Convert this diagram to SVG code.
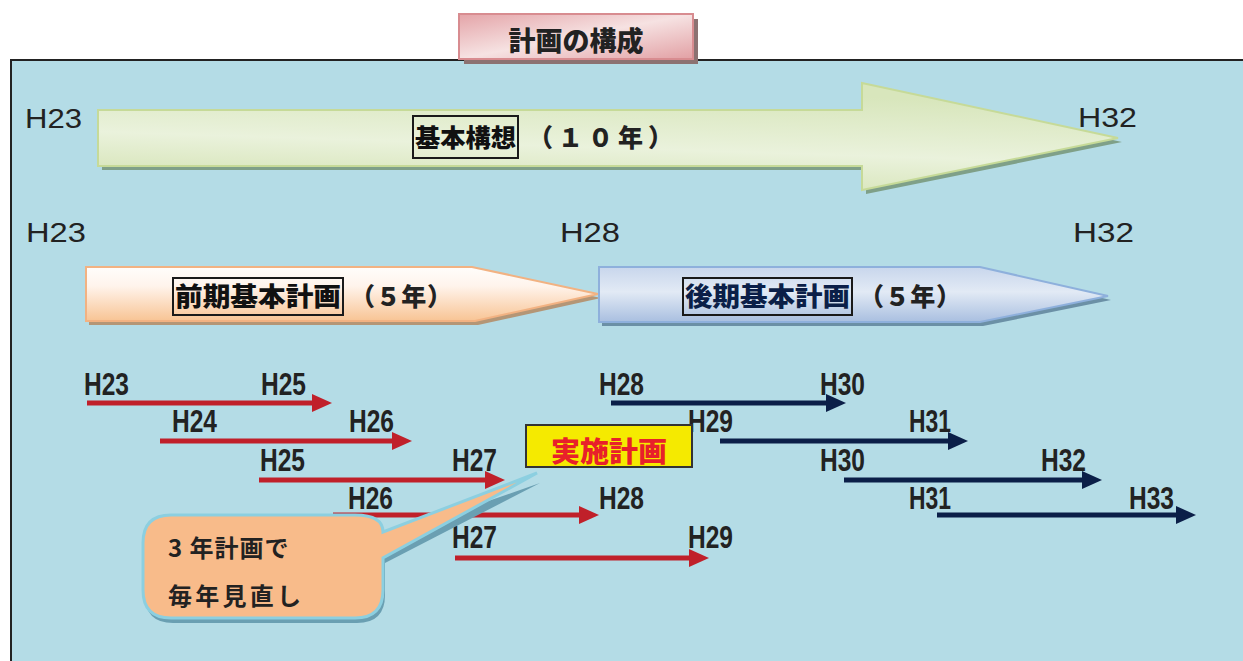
<svg xmlns="http://www.w3.org/2000/svg" width="1243" height="661" viewBox="0 0 1243 661">
<defs>
<style>
.cjk{font-family:"Noto Sans CJK JP","Noto Sans CJK SC",sans-serif;font-weight:900;}
.lbl{font-family:"Liberation Sans","DejaVu Sans",sans-serif;font-size:31px;font-weight:bold;fill:#222;}
.yr{font-family:"Liberation Sans",Arial,sans-serif;font-size:27px;fill:#222;}
.red{stroke:#c0202a;stroke-width:5;fill:none;}
.navy{stroke:#0b1f48;stroke-width:5;fill:none;}
.tbox{fill:none;stroke:#1a1a1a;stroke-width:2;}
</style>
<linearGradient id="gTitle" x1="0" y1="0" x2="1" y2="1">
<stop offset="0" stop-color="#e4a4a8"/><stop offset="0.5" stop-color="#f6e2e2"/><stop offset="1" stop-color="#e2a0a4"/>
</linearGradient>
<linearGradient id="gGreen" x1="0" y1="1" x2="0.3" y2="0">
<stop offset="0" stop-color="#d0e0ac"/><stop offset="0.5" stop-color="#eaf2dc"/><stop offset="1" stop-color="#d8e6bc"/>
</linearGradient>
<linearGradient id="gOrange" x1="0" y1="0" x2="0" y2="1">
<stop offset="0" stop-color="#fffdfb"/><stop offset="0.35" stop-color="#fff4ec"/><stop offset="1" stop-color="#f8c494"/>
</linearGradient>
<linearGradient id="gBlue" x1="0" y1="0" x2="0" y2="1">
<stop offset="0" stop-color="#c8d6ec"/><stop offset="0.45" stop-color="#e2eaf5"/><stop offset="1" stop-color="#a9bfe0"/>
</linearGradient>
<marker id="mRed" viewBox="0 0 20 18" refX="6" refY="9" markerWidth="20" markerHeight="18" markerUnits="userSpaceOnUse" orient="auto">
<path d="M0,0 L20,9 L0,18 Z" fill="#c0202a"/>
</marker>
<marker id="mNavy" viewBox="0 0 20 18" refX="6" refY="9" markerWidth="20" markerHeight="18" markerUnits="userSpaceOnUse" orient="auto">
<path d="M0,0 L20,9 L0,18 Z" fill="#0b1f48"/>
</marker>
</defs>

<rect x="0" y="0" width="1243" height="661" fill="#ffffff"/>
<rect x="10" y="59" width="1240" height="610" fill="#b4dce6"/>
<path d="M11,661 V60 H1243" fill="none" stroke="#222" stroke-width="2"/>

<g id="title">
<rect x="464" y="19" width="234" height="45" fill="#8c7272"/>
<rect x="459" y="14" width="234" height="45" fill="url(#gTitle)" stroke="#d88c90" stroke-width="2"/>
<text x="576" y="51" class="cjk" font-size="27" fill="#222" text-anchor="middle">計画の構成</text>
</g>

<g id="year-labels">
<text x="25" y="128" class="yr" textLength="57" lengthAdjust="spacingAndGlyphs">H23</text>
<text x="1078" y="127" class="yr" textLength="59" lengthAdjust="spacingAndGlyphs">H32</text>
<text x="26" y="242" class="yr" textLength="60" lengthAdjust="spacingAndGlyphs">H23</text>
<text x="560" y="242" class="yr" textLength="60" lengthAdjust="spacingAndGlyphs">H28</text>
<text x="1073" y="242" class="yr" textLength="61" lengthAdjust="spacingAndGlyphs">H32</text>
</g>

<g id="kihon-kousou">
<path d="M98,110 H862 V83 L1118,138 L862,190 V166 H98 Z" fill="#7fa088" transform="translate(4,4)"/>
<path d="M98,110 H862 V83 L1118,138 L862,190 V166 H98 Z" fill="url(#gGreen)" stroke="#c6da98" stroke-width="2"/>
<rect x="413" y="116" width="105" height="42" class="tbox"/>
<text x="415" y="147" class="cjk" font-size="25" fill="#111" textLength="101" lengthAdjust="spacingAndGlyphs">基本構想</text>
<text x="528" y="147" class="cjk" font-size="25" fill="#222" textLength="145">（１０年）</text>
</g>

<g id="zenki">
<path d="M86,267 H472 L598,294 L475,321 H86 Z" fill="#b49676" transform="translate(3,4)"/>
<path d="M86,267 H472 L598,294 L475,321 H86 Z" fill="url(#gOrange)" stroke="#f2b282" stroke-width="2"/>
<rect x="173" y="278" width="170" height="37" class="tbox"/>
<text x="175" y="306" class="cjk" font-size="26" fill="#111" textLength="166" lengthAdjust="spacingAndGlyphs">前期基本計画</text>
<text x="350" y="306" class="cjk" font-size="25" fill="#222" textLength="102">（５年）</text>
</g>

<g id="kouki">
<path d="M599,267 H980 L1108,296 L980,322 H599 Z" fill="#6b90a6" transform="translate(3,4)"/>
<path d="M599,267 H980 L1108,296 L980,322 H599 Z" fill="url(#gBlue)" stroke="#8eb0dc" stroke-width="2"/>
<rect x="683" y="278" width="169" height="37" class="tbox"/>
<text x="685" y="306" class="cjk" font-size="26" fill="#0b1f48" textLength="165" lengthAdjust="spacingAndGlyphs">後期基本計画</text>
<text x="859" y="306" class="cjk" font-size="25" fill="#222" textLength="102">（５年）</text>
</g>

<g id="connectors">
<line x1="87" y1="403" x2="318" y2="403" class="red" marker-end="url(#mRed)"/>
<line x1="160" y1="441" x2="398" y2="441" class="red" marker-end="url(#mRed)"/>
<line x1="259" y1="480" x2="491" y2="480" class="red" marker-end="url(#mRed)"/>
<line x1="333" y1="515" x2="585" y2="515" class="red" marker-end="url(#mRed)"/>
<line x1="455" y1="558" x2="695" y2="558" class="red" marker-end="url(#mRed)"/>
<line x1="611" y1="403" x2="832" y2="403" class="navy" marker-end="url(#mNavy)"/>
<line x1="720" y1="441" x2="954" y2="441" class="navy" marker-end="url(#mNavy)"/>
<line x1="844" y1="480" x2="1088" y2="480" class="navy" marker-end="url(#mNavy)"/>
<line x1="937" y1="515" x2="1182" y2="515" class="navy" marker-end="url(#mNavy)"/>
</g>

<g id="plan-labels">
<text x="84" y="395" class="lbl" textLength="45" lengthAdjust="spacingAndGlyphs">H23</text>
<text x="261" y="395" class="lbl" textLength="45" lengthAdjust="spacingAndGlyphs">H25</text>
<text x="172" y="432" class="lbl" textLength="45" lengthAdjust="spacingAndGlyphs">H24</text>
<text x="349" y="432" class="lbl" textLength="45" lengthAdjust="spacingAndGlyphs">H26</text>
<text x="260" y="471" class="lbl" textLength="45" lengthAdjust="spacingAndGlyphs">H25</text>
<text x="452" y="471" class="lbl" textLength="45" lengthAdjust="spacingAndGlyphs">H27</text>
<text x="348" y="509" class="lbl" textLength="45" lengthAdjust="spacingAndGlyphs">H26</text>
<text x="599" y="509" class="lbl" textLength="45" lengthAdjust="spacingAndGlyphs">H28</text>
<text x="452" y="548" class="lbl" textLength="45" lengthAdjust="spacingAndGlyphs">H27</text>
<text x="688" y="548" class="lbl" textLength="45" lengthAdjust="spacingAndGlyphs">H29</text>
<text x="599" y="395" class="lbl" textLength="45" lengthAdjust="spacingAndGlyphs">H28</text>
<text x="820" y="395" class="lbl" textLength="45" lengthAdjust="spacingAndGlyphs">H30</text>
<text x="688" y="432" class="lbl" textLength="45" lengthAdjust="spacingAndGlyphs">H29</text>
<text x="909" y="432" class="lbl" textLength="42" lengthAdjust="spacingAndGlyphs">H31</text>
<text x="820" y="471" class="lbl" textLength="45" lengthAdjust="spacingAndGlyphs">H30</text>
<text x="1041" y="471" class="lbl" textLength="45" lengthAdjust="spacingAndGlyphs">H32</text>
<text x="909" y="509" class="lbl" textLength="42" lengthAdjust="spacingAndGlyphs">H31</text>
<text x="1129" y="509" class="lbl" textLength="45" lengthAdjust="spacingAndGlyphs">H33</text>
</g>

<g id="jisshi-keikaku">
<rect x="526" y="425" width="166" height="42" fill="#f5ea00" stroke="#333" stroke-width="2"/>
<text x="609" y="462" class="cjk" font-size="28" fill="#e8202a" text-anchor="middle" textLength="116" lengthAdjust="spacingAndGlyphs">実施計画</text>
</g>

<g id="callout">
<path d="M171,515 H355 Q383,515 383,532 L538,478 L383,558 V590 Q383,618 355,618 H171 Q143,618 143,590 V543 Q143,515 171,515 Z" fill="#6a9fb2" transform="translate(2,5)"/>
<path d="M171,515 H355 Q383,515 383,532 L537,473 L383,558 V590 Q383,618 355,618 H171 Q143,618 143,590 V543 Q143,515 171,515 Z" fill="#f8bb8a" stroke="#8ccfe0" stroke-width="3"/>
<text x="168" y="557" class="cjk" font-size="24" fill="#222" letter-spacing="1" style="font-weight:bold">3 年計画で</text>
<text x="168" y="605" class="cjk" font-size="24" fill="#222" textLength="133" style="font-weight:bold">毎年見直し</text>
</g>
</svg>
